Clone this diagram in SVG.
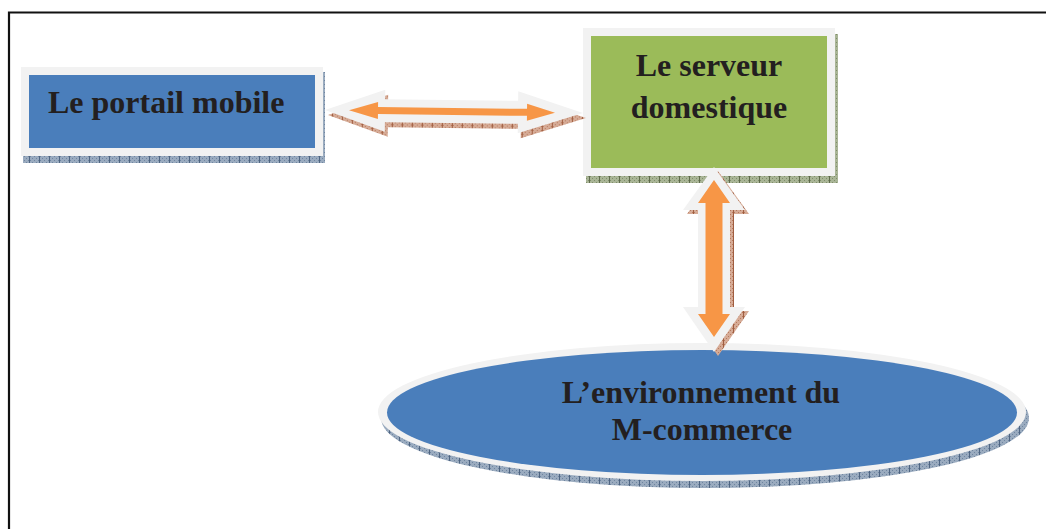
<svg xmlns="http://www.w3.org/2000/svg" width="1046" height="529" viewBox="0 0 1046 529">
  <defs>
    <style>
      .lbl { font-family: "Liberation Serif", "Times New Roman", serif; font-weight: bold; font-size: 32px; fill: #231f20; }
      .rim { fill: #f2f2f2; }
      .blue { fill: #4a7ebb; }
      .green { fill: #9bbb59; }
      .orange { fill: #f79646; }
    </style>
    <!-- hatched drop shadows -->
    <pattern id="hatchBlue" width="10" height="4" patternUnits="userSpaceOnUse">
      <rect width="10" height="4" fill="#9aabbf"/>
      <rect x="0" y="0" width="1" height="1" fill="#6f85a0"/>
      <rect x="2" y="2" width="1" height="1" fill="#6f85a0"/>
      <rect x="4" y="0" width="1" height="1" fill="#6f85a0"/>
      <rect x="6" y="2" width="1" height="1" fill="#6f85a0"/>
      <rect x="8" y="0" width="1" height="1" fill="#6f85a0"/>
      <rect x="9" y="0" width="1" height="4" fill="#4f6582"/>
    </pattern>
    <pattern id="hatchGreen" width="10" height="4" patternUnits="userSpaceOnUse">
      <rect width="10" height="4" fill="#a9b596"/>
      <rect x="0" y="0" width="1" height="1" fill="#7f8c6a"/>
      <rect x="2" y="2" width="1" height="1" fill="#7f8c6a"/>
      <rect x="4" y="0" width="1" height="1" fill="#7f8c6a"/>
      <rect x="6" y="2" width="1" height="1" fill="#7f8c6a"/>
      <rect x="8" y="0" width="1" height="1" fill="#7f8c6a"/>
      <rect x="9" y="0" width="1" height="4" fill="#5f6b4c"/>
    </pattern>
    <pattern id="hatchBrown" width="10" height="4" patternUnits="userSpaceOnUse">
      <rect width="10" height="4" fill="#d6ab96"/>
      <rect x="0" y="0" width="1" height="1" fill="#b67a5e"/>
      <rect x="2" y="2" width="1" height="1" fill="#b67a5e"/>
      <rect x="4" y="0" width="1" height="1" fill="#b67a5e"/>
      <rect x="6" y="2" width="1" height="1" fill="#b67a5e"/>
      <rect x="8" y="0" width="1" height="1" fill="#b67a5e"/>
      <rect x="9" y="0" width="1" height="4" fill="#a05d40"/>
    </pattern>
  </defs>

  <rect width="1046" height="529" fill="#ffffff"/>

  <!-- page frame -->
  <path d="M9 529 V12.5 H1046" fill="none" stroke="#111111" stroke-width="2.2"/>

  <g id="portail-mobile">
    <rect x="23" y="72" width="302" height="91" fill="url(#hatchBlue)"/>
    <rect class="rim" x="21" y="67" width="302" height="89"/>
    <rect class="blue" x="29" y="75" width="286" height="73"/>
    <text class="lbl" x="48" y="113">Le portail mobile</text>
  </g>

  <g id="serveur-domestique">
    <rect x="586" y="34" width="252" height="149" fill="url(#hatchGreen)"/>
    <rect class="rim" x="583" y="28" width="252" height="148"/>
    <rect class="green" x="591" y="36" width="236" height="132"/>
    <text class="lbl" text-anchor="middle" x="709" y="76">Le serveur</text>
    <text class="lbl" text-anchor="middle" x="709" y="118">domestique</text>
  </g>

  <g id="m-commerce">
    <ellipse cx="705" cy="418" rx="324" ry="70" fill="url(#hatchBlue)"/>
    <ellipse class="rim" cx="702" cy="412" rx="324" ry="69"/>
    <ellipse class="blue" cx="702" cy="412.5" rx="315" ry="62.5"/>
    <text class="lbl" text-anchor="middle" x="701" y="403">L’environnement du</text>
    <text class="lbl" text-anchor="middle" x="702" y="440">M-commerce</text>
  </g>

  <g id="connectors">
    <!-- portail <-> serveur -->
    <g transform="rotate(0.67 454 111.5)">
      <polygon fill="url(#hatchBrown)" transform="translate(3 5)"
               points="325,111.5 385,90.5 385,100 518,100 518,90.5 583,111.5 518,132.5 518,123 385,123 385,132.5"/>
      <polygon class="rim"
               points="325,111.5 385,90.5 385,100 518,100 518,90.5 583,111.5 518,132.5 518,123 385,123 385,132.5"/>
      <polygon class="orange"
               points="349,111.5 378,103 378,108 527,108 527,103 555,111.5 527,120 527,115 378,115 378,120"/>
    </g>
    <!-- serveur <-> m-commerce -->
    <polygon fill="url(#hatchBrown)" transform="translate(4 4)"
             points="714,167 683,210 698,210 698,307 683,307 714,352 745,307 730,307 730,210 745,210"/>
    <polygon class="rim"
             points="714,167 683,210 698,210 698,307 683,307 714,352 745,307 730,307 730,210 745,210"/>
    <polygon class="orange"
             points="714,180 698,203 705.5,203 705.5,314 698,314 714,337 730,314 722.5,314 722.5,203 730,203"/>
  </g>
</svg>
